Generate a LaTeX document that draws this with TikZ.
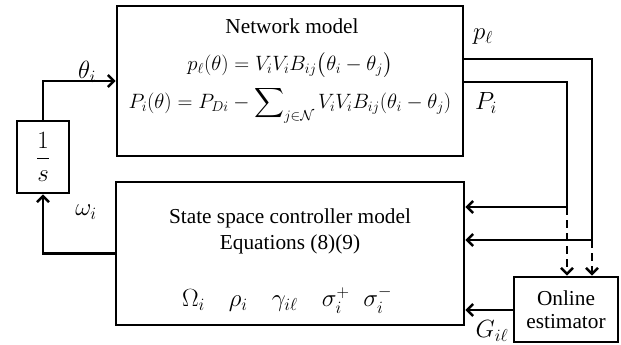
\documentclass[tikz,border=0pt]{standalone}
\usepackage{amsmath}
\usepackage{fontspec}
\setmainfont{Liberation Serif}
\usetikzlibrary{arrows.meta}
\begin{document}
\begin{tikzpicture}[x=1pt,y=-1pt,
  blk/.style={draw,line width=2.8pt,inner sep=0pt},
  conn/.style={line width=2.8pt},
  arr/.style={conn,-{Straight Barb[length=6pt,width=12pt,line width=2.4pt]}},
  darr/.style={arr,dash pattern=on 8pt off 5pt},
  lbl/.style={inner sep=0pt},
  every node/.style={font=\fontsize{21.3}{25}\selectfont},
  eqn/.style={font=\fontsize{22.5}{26}\selectfont},
  big/.style={font=\fontsize{24}{28}\selectfont}]
\useasboundingbox (0,0) rectangle (621,345);
\node[blk,minimum width=346pt,minimum height=150pt] (net) at (290,81) {};
\node[blk,minimum width=348pt,minimum height=143pt] (ctrl) at (290,253.5) {};
\node[blk,minimum width=52pt,minimum height=72pt,big] (integ) at (43,157) {$\dfrac{1}{s}$};
\node[blk,minimum width=104pt,minimum height=65pt,align=center] (est) at (566,309.5) {Online\\[-2pt]estimator};
% texts in network box
\node[lbl] (nt) at (292,26) {Network model};
\node[lbl,eqn] (e1) at (290,65) {$p_\ell(\theta)=V_iV_iB_{ij}\bigl(\theta_i-\theta_j\bigr)$};
\node[lbl,eqn] (e2) at (290,105) {$P_i(\theta)=P_{Di}-\displaystyle\sum\nolimits_{j\in\mathcal{N}}V_iV_iB_{ij}(\theta_i-\theta_j)$};
% texts in controller
\node[lbl] (c1) at (290,218) {State space controller model};
\node[lbl] (c2) at (290,244) {Equations (8)(9)};
\node[lbl,big] (c3) at (287,300) {$\Omega_i\quad\rho_i\quad\gamma_{i\ell}\quad\sigma_i^+\;\;\sigma_i^-$};
% coordinates
\coordinate (pa) at (592,59);
\coordinate (pb) at (592,240);
\coordinate (qa) at (567,82);
\coordinate (qb) at (567,207);
% connectors
\draw[arr] (integ.north) |- (net.west);
\draw[arr] (ctrl.west) -| (integ.south);
\draw[conn] (net.east |- pa) -- (pa) -- (pb);
\draw[arr] (pb) -- (ctrl.east |- pb);
\draw[conn] (net.east |- qa) -- (qa) -- (qb);
\draw[arr] (qb) -- (ctrl.east |- qb);
\draw[darr] (pb) -- (est.north -| pb);
\draw[darr] (qb) -- (est.north -| qb);
\draw[arr] (est.west |- 0,310) -- (ctrl.east |- 0,310);
% labels
\node[lbl,big] (lth) at (87,72) {$\theta_i$};
\node[lbl,big] (lom) at (86,212) {$\omega_i$};
\node[lbl,big] (lp) at (483,37) {$p_\ell$};
\node[lbl,big] (lP) at (486,103) {$P_i$};
\node[lbl,big] (lG) at (492,331) {$G_{i\ell}$};
\end{tikzpicture}
\end{document}
